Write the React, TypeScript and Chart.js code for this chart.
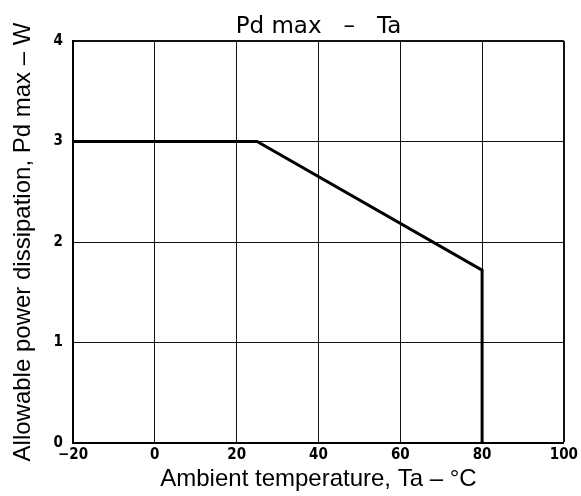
import React, { useEffect, useRef } from "react";
import { Chart, registerables } from "chart.js";

Chart.register(...registerables);

const temperatureC = [-20, 25, 80, 80];
const powerW = [3, 3, 1.72, 0];
const xTickValues = [-20, 0, 20, 40, 60, 80, 100];
const xTickLabels = ["−20", "0", "20", "40", "60", "80", "100"];
const yTickValues = [0, 1, 2, 3, 4];
const yTickLabels = ["0", "1", "2", "3", "4"];

const titleText = "Pd max   –   Ta";
const xTitle = "Ambient temperature, Ta – °C";
const yTitle = "Allowable power dissipation, Pd max – W";

export default function App() {
  const ref = useRef<HTMLCanvasElement | null>(null);

  useEffect(() => {
    if (!ref.current) return;
    const points = temperatureC.map((x, i) => ({ x, y: powerW[i] }));
    const tickFont = { family: "'DejaVu Sans Condensed', 'DejaVu Sans', sans-serif", size: 15, weight: "bold" as const };
    const labelFont = { family: "'Liberation Sans', Arial, sans-serif", size: 24 };
    const chart = new Chart(ref.current, {
      type: "line",
      data: {
        datasets: [
          {
            data: points,
            borderColor: "#000",
            borderWidth: 3,
            pointRadius: 0,
            tension: 0,
            fill: false,
          },
        ],
      },
      options: {
        responsive: false,
        animation: false,
        layout: { padding: { left: 0, right: 15, top: 0, bottom: 0 } },
        plugins: {
          legend: { display: false },
          tooltip: { enabled: false },
          title: {
            display: true,
            text: titleText,
            fullSize: false,
            color: "#000",
            font: { family: "'DejaVu Sans', sans-serif", size: 23, weight: "normal" },
            padding: { top: 13, bottom: 0.4 },
          },
        },
        scales: {
          x: {
            type: "linear",
            min: -20,
            max: 100,
            afterFit: (s: any) => {
              s.height = 53;
            },
            afterBuildTicks: (s: any) => {
              s.ticks = xTickValues.map((v) => ({ value: v }));
            },
            ticks: {
              color: "#000",
              font: tickFont,
              padding: 3,
              maxRotation: 0,
              callback: (v: any) => {
                const i = xTickValues.indexOf(Number(v));
                return i >= 0 ? xTickLabels[i] : "";
              },
            },
            grid: {
              color: "#111",
              lineWidth: (c: any) => (c.tick && c.tick.value === 100 ? 2 : 1),
              drawTicks: false,
            },
            border: { color: "#000", width: 2 },
            title: {
              display: true,
              text: xTitle,
              color: "#000",
              font: labelFont,
              padding: { top: 0, bottom: 2 },
            },
          },
          y: {
            type: "linear",
            min: 0,
            max: 4,
            afterFit: (s: any) => {
              s.width = 73;
            },
            afterBuildTicks: (s: any) => {
              s.ticks = yTickValues.map((v) => ({ value: v }));
            },
            ticks: {
              color: "#000",
              font: tickFont,
              padding: 10,
              callback: (v: any) => {
                const i = yTickValues.indexOf(Number(v));
                return i >= 0 ? yTickLabels[i] : "";
              },
            },
            grid: {
              color: "#111",
              lineWidth: (c: any) => (c.tick && c.tick.value === 4 ? 2 : 1),
              drawTicks: false,
            },
            border: { color: "#000", width: 2 },
            title: {
              display: true,
              text: yTitle,
              color: "#000",
              font: labelFont,
              padding: { top: 9, bottom: 0 },
            },
          },
        },
      },
    });
    return () => chart.destroy();
  }, []);

  return (
    <div style={{ position: "fixed", left: 0, top: 0, width: 581, height: 496, background: "#fff" }}>
      <canvas ref={ref} width={581} height={496} style={{ display: "block" }} />
    </div>
  );
}
